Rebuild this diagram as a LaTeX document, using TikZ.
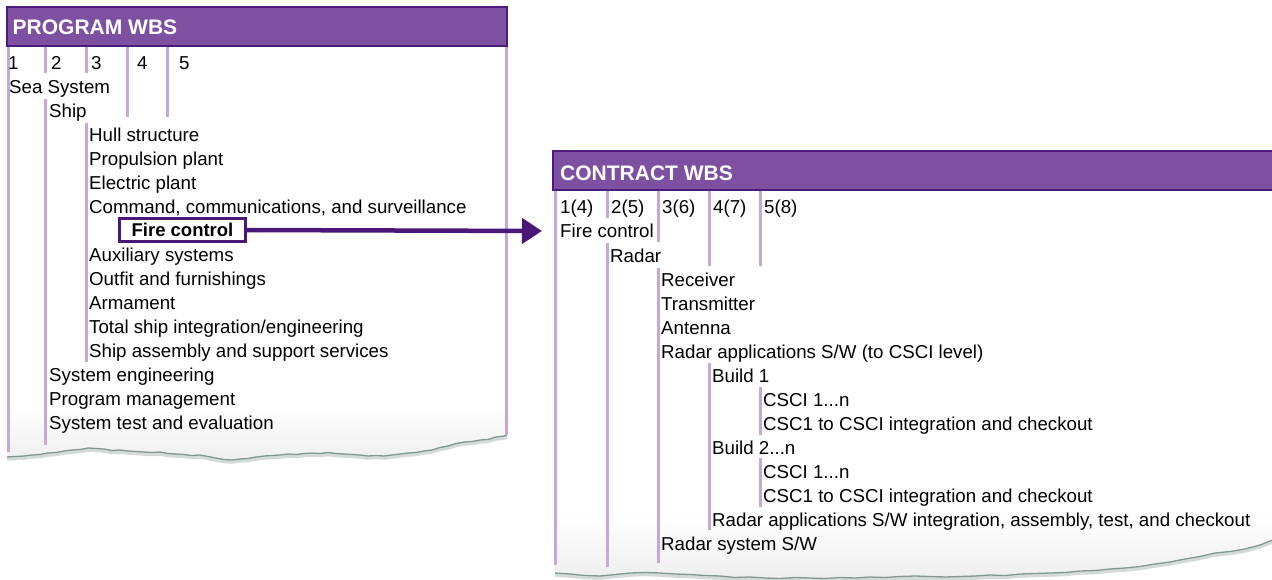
\documentclass[tikz,border=0pt]{standalone}
\usepackage{fontspec}
\setmainfont{Liberation Sans}
\usetikzlibrary{arrows.meta}
\definecolor{hdrfill}{HTML}{7E50A2}
\definecolor{hdrline}{HTML}{4D1B7B}
\definecolor{lav}{HTML}{C4A7DD}
\definecolor{deep}{HTML}{4A1677}
\definecolor{tear}{HTML}{7F9893}
\definecolor{tearshadow}{HTML}{D3DAD8}
\begin{document}
\begin{tikzpicture}[x=1pt,y=-1pt,
  lbl/.style={anchor=base west,inner sep=0pt,font=\fontsize{18.7}{22}\selectfont},
  hdrtext/.style={anchor=base west,inner sep=0pt,text=white,font=\fontsize{21}{24}\selectfont\bfseries},
  hdrbox/.style={fill=hdrfill,draw=hdrline,line width=2.5pt},
  rule/.style={draw=lav,line width=3pt},
  tearline/.style={draw=tear,line width=1.3pt,line join=round},
  tearshade/.style={draw=tearshadow,line width=3.5pt,line join=round,yshift=-2pt},
  fcbox/.style={draw=deep,line width=3pt,inner sep=0pt,minimum width=126pt,minimum height=23pt,font=\fontsize{18.5}{22}\selectfont\bfseries},
  arrowline/.style={draw=deep,line width=4.5pt,-{Triangle[length=20pt,width=25pt]}}
]
\clip (0,0) rectangle (1272,580);
% ---------------- PROGRAM WBS paper ----------------
\begin{scope}
\clip (507,46) -- (7,46) -- plot coordinates {(7,457)(15,456.5)(24,456)(32,455)(40,454.5)(48,453)(56,452.5)(64,451)(72,450)(80,449.5)(88,448)(96,448.5)(104,449)(112,450.5)(120,450)(128,451)(136,451.5)(144,452)(152,452.5)(160,452)(168,453.5)(176,454)(184,454.5)(192,455.5)(200,455)(208,456.5)(216,458)(224,459.5)(232,460)(240,459)(248,458.5)(256,457)(264,456)(272,455.5)(280,455)(288,454)(296,454.5)(304,453.5)(312,453)(320,453.5)(328,452.5)(336,453.5)(344,454)(352,454.5)(360,455)(368,456)(376,455.5)(384,456)(392,455)(400,454)(408,453)(416,452.5)(424,451)(432,450)(440,447.5)(448,446)(456,443.5)(464,442)(472,441.5)(480,440)(488,439.5)(496,437)(504,436)(507,435)} -- cycle;
\fill[top color=white,bottom color=gray!14] (0,405) rectangle (520,465);
\end{scope}
\draw[tearshade] plot coordinates {(7,457)(15,456.5)(24,456)(32,455)(40,454.5)(48,453)(56,452.5)(64,451)(72,450)(80,449.5)(88,448)(96,448.5)(104,449)(112,450.5)(120,450)(128,451)(136,451.5)(144,452)(152,452.5)(160,452)(168,453.5)(176,454)(184,454.5)(192,455.5)(200,455)(208,456.5)(216,458)(224,459.5)(232,460)(240,459)(248,458.5)(256,457)(264,456)(272,455.5)(280,455)(288,454)(296,454.5)(304,453.5)(312,453)(320,453.5)(328,452.5)(336,453.5)(344,454)(352,454.5)(360,455)(368,456)(376,455.5)(384,456)(392,455)(400,454)(408,453)(416,452.5)(424,451)(432,450)(440,447.5)(448,446)(456,443.5)(464,442)(472,441.5)(480,440)(488,439.5)(496,437)(504,436)(507,435)};
\draw[tearline] plot coordinates {(7,457)(15,456.5)(24,456)(32,455)(40,454.5)(48,453)(56,452.5)(64,451)(72,450)(80,449.5)(88,448)(96,448.5)(104,449)(112,450.5)(120,450)(128,451)(136,451.5)(144,452)(152,452.5)(160,452)(168,453.5)(176,454)(184,454.5)(192,455.5)(200,455)(208,456.5)(216,458)(224,459.5)(232,460)(240,459)(248,458.5)(256,457)(264,456)(272,455.5)(280,455)(288,454)(296,454.5)(304,453.5)(312,453)(320,453.5)(328,452.5)(336,453.5)(344,454)(352,454.5)(360,455)(368,456)(376,455.5)(384,456)(392,455)(400,454)(408,453)(416,452.5)(424,451)(432,450)(440,447.5)(448,446)(456,443.5)(464,442)(472,441.5)(480,440)(488,439.5)(496,437)(504,436)(507,435)};
% rules
\draw[rule] (8,46) -- (8,452);
\draw[rule] (506,46) -- (506,435);
\draw[rule] (45,46) -- (45,73);
\draw[rule] (45,99) -- (45,445);
\draw[rule] (86,46) -- (86,73);
\draw[rule] (86,123) -- (86,362);
\draw[rule] (127,46) -- (127,117);
\draw[rule] (167,46) -- (167,117);
% header
\draw[hdrbox] (7,7) rectangle (507,46);
\node[hdrtext] (ph) at (12.5,35) {PROGRAM WBS};
% column labels
\node[lbl] (p1) at (8,69.5) {1};
\node[lbl] (p2) at (51,69.5) {2};
\node[lbl] (p3) at (91,69.5) {3};
\node[lbl] (p4) at (137,69.5) {4};
\node[lbl] (p5) at (179,69.5) {5};
% items
\node[lbl] (seasys) at (9,93.5) {Sea System};
\node[lbl] (ship) at (49,117.5) {Ship};
\node[lbl] (hull) at (89,141.5) {Hull structure};
\node[lbl] (prop) at (89,165.5) {Propulsion plant};
\node[lbl] (elec) at (89,189.5) {Electric plant};
\node[lbl] (ccs) at (89,213.5) {Command, communications, and surveillance};
\node[fcbox] (fc) at (182.5,230) {Fire control};
\node[lbl] (aux) at (89,261.5) {Auxiliary systems};
\node[lbl] (outfit) at (89,285.5) {Outfit and furnishings};
\node[lbl] (arm) at (89,309.5) {Armament};
\node[lbl] (tsi) at (89,333.5) {Total ship integration/engineering};
\node[lbl] (sasm) at (89,357.5) {Ship assembly and support services};
\node[lbl] (syseng) at (49,381.5) {System engineering};
\node[lbl] (pm) at (49,405.5) {Program management};
\node[lbl] (ste) at (49,429.5) {System test and evaluation};
% ---------------- CONTRACT WBS paper ----------------
\begin{scope}
\clip (1280,190) -- (555,190) -- plot coordinates {(555,573)(570,574)(585,575.5)(600,576)(615,574.5)(630,573)(645,572.5)(660,573)(675,574)(690,574.5)(705,575.5)(720,576)(735,577.5)(750,577)(765,578)(780,578.5)(795,577.5)(810,578)(825,578.5)(840,577.5)(855,578)(870,577)(885,577.5)(900,576.5)(915,576)(930,576.5)(945,577)(960,576.5)(975,576)(990,575)(1005,575.5)(1020,574)(1035,573.5)(1050,573)(1065,572.5)(1080,571)(1095,570.5)(1110,569)(1125,568)(1140,566.5)(1155,564)(1170,562)(1185,559)(1200,556.5)(1215,553)(1230,551.5)(1245,549)(1260,545)(1275,539)} -- cycle;
\fill[top color=white,bottom color=gray!14] (550,515) rectangle (1280,582);
\end{scope}
\draw[tearshade] plot coordinates {(555,573)(570,574)(585,575.5)(600,576)(615,574.5)(630,573)(645,572.5)(660,573)(675,574)(690,574.5)(705,575.5)(720,576)(735,577.5)(750,577)(765,578)(780,578.5)(795,577.5)(810,578)(825,578.5)(840,577.5)(855,578)(870,577)(885,577.5)(900,576.5)(915,576)(930,576.5)(945,577)(960,576.5)(975,576)(990,575)(1005,575.5)(1020,574)(1035,573.5)(1050,573)(1065,572.5)(1080,571)(1095,570.5)(1110,569)(1125,568)(1140,566.5)(1155,564)(1170,562)(1185,559)(1200,556.5)(1215,553)(1230,551.5)(1245,549)(1260,545)(1275,539)};
\draw[tearline] plot coordinates {(555,573)(570,574)(585,575.5)(600,576)(615,574.5)(630,573)(645,572.5)(660,573)(675,574)(690,574.5)(705,575.5)(720,576)(735,577.5)(750,577)(765,578)(780,578.5)(795,577.5)(810,578)(825,578.5)(840,577.5)(855,578)(870,577)(885,577.5)(900,576.5)(915,576)(930,576.5)(945,577)(960,576.5)(975,576)(990,575)(1005,575.5)(1020,574)(1035,573.5)(1050,573)(1065,572.5)(1080,571)(1095,570.5)(1110,569)(1125,568)(1140,566.5)(1155,564)(1170,562)(1185,559)(1200,556.5)(1215,553)(1230,551.5)(1245,549)(1260,545)(1275,539)};
% rules
\draw[rule] (555,190) -- (555,565);
\draw[rule] (607,190) -- (607,218);
\draw[rule] (607,243) -- (607,567);
\draw[rule] (658,190) -- (658,242);
\draw[rule] (658,268) -- (658,563);
\draw[rule] (709,190) -- (709,266);
\draw[rule] (709,363) -- (709,530);
\draw[rule] (760,190) -- (760,266);
\draw[rule] (760,387) -- (760,435);
\draw[rule] (760,458) -- (760,507);
% header
\draw[hdrbox] (553,151) rectangle (1285,190);
\node[hdrtext] (ch) at (560,181) {CONTRACT WBS};
% column labels
\node[lbl] (c1) at (560,214) {1(4)};
\node[lbl] (c2) at (611,214) {2(5)};
\node[lbl] (c3) at (662,214) {3(6)};
\node[lbl] (c4) at (713,214) {4(7)};
\node[lbl] (c5) at (764,214) {5(8)};
% items
\node[lbl] (cfc) at (560,238) {Fire control};
\node[lbl] (radar) at (610,262) {Radar};
\node[lbl] (rcv) at (661,286) {Receiver};
\node[lbl] (xmt) at (661,310) {Transmitter};
\node[lbl] (ant) at (661,334) {Antenna};
\node[lbl] (rasw) at (661,358) {Radar applications S/W (to CSCI level)};
\node[lbl] (b1) at (712,382) {Build 1};
\node[lbl] (b1c) at (763,406) {CSCI 1...n};
\node[lbl] (b1i) at (763,430) {CSC1 to CSCI integration and checkout};
\node[lbl] (b2) at (712,454) {Build 2...n};
\node[lbl] (b2c) at (763,478) {CSCI 1...n};
\node[lbl] (b2i) at (763,502) {CSC1 to CSCI integration and checkout};
\node[lbl] (raint) at (712,526) {Radar applications S/W integration, assembly, test, and checkout};
\node[lbl] (rss) at (661,550) {Radar system S/W};
% ---------------- arrow ----------------
\coordinate (arrEnd) at (542,231);
\draw[arrowline] (fc.east) -- (arrEnd);
\end{tikzpicture}
\end{document}
